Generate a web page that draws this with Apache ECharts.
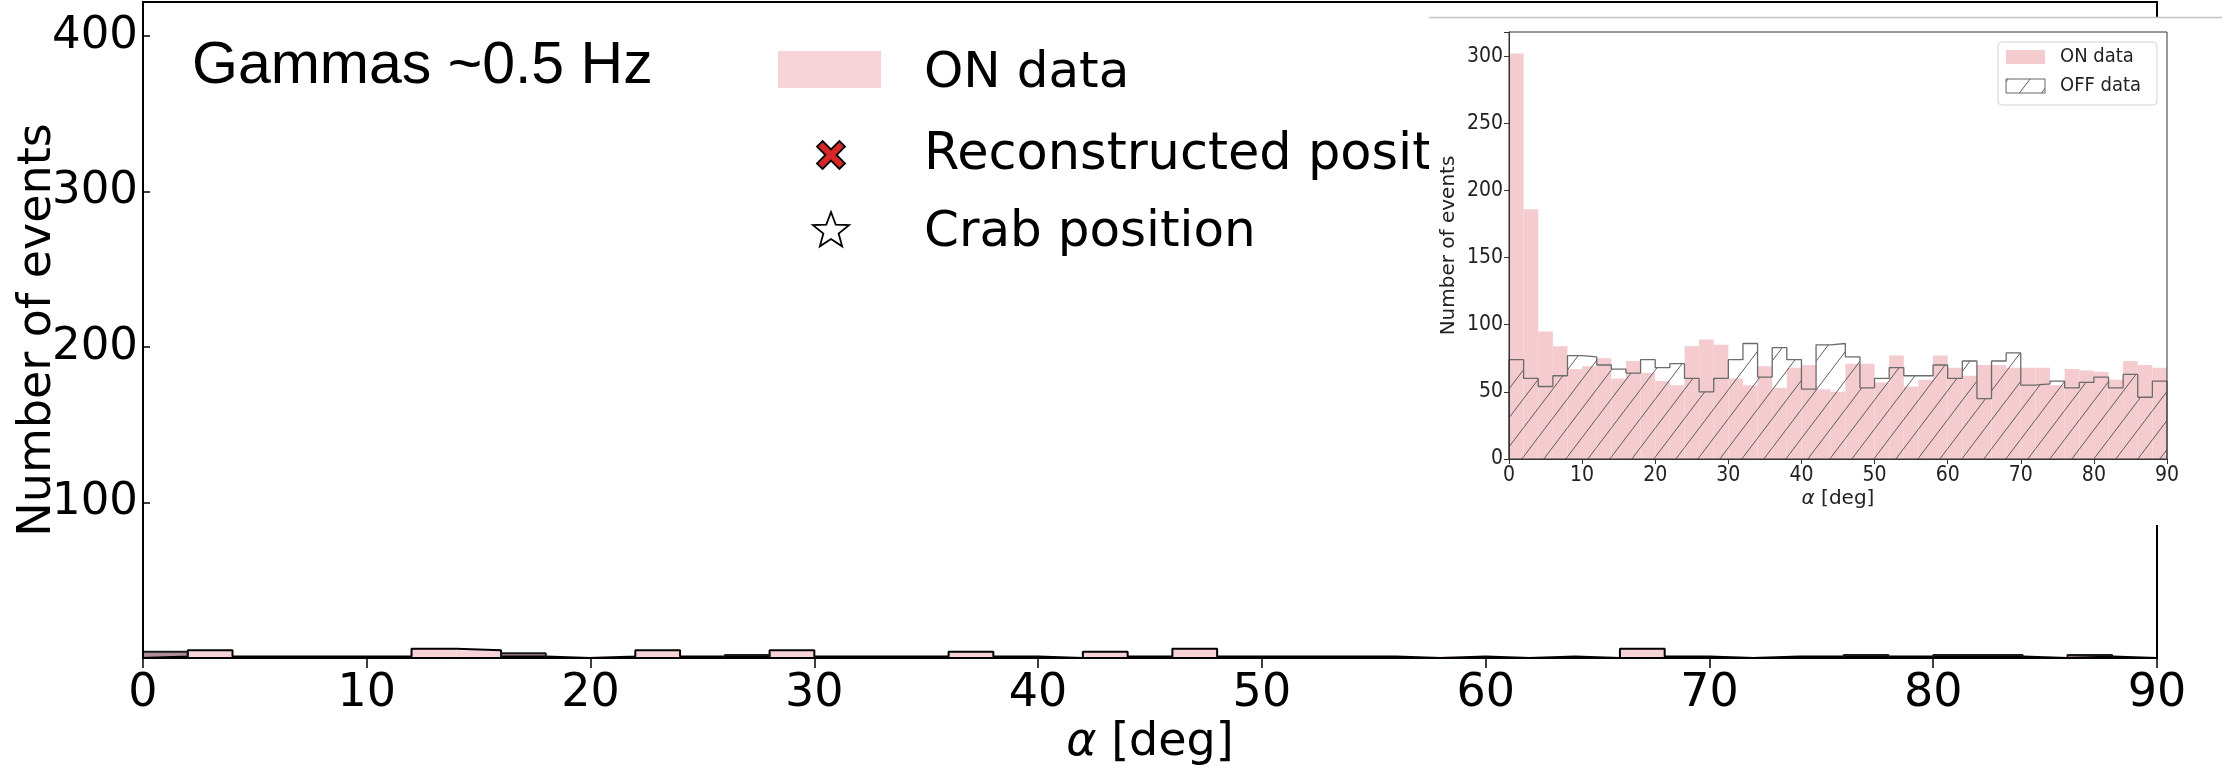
<!DOCTYPE html>
<html>
<head>
<meta charset="utf-8">
<script src="https://cdn.jsdelivr.net/npm/echarts@6/dist/echarts.min.js"></script>
<style>
  html, body { margin: 0; padding: 0; background: #ffffff; }
  #chart { width: 2234px; height: 772px; }
</style>
</head>
<body>
<div id="chart"></div>
<script>
// Alpha histograms, 2-degree bins from 0 to 90 deg.
const binWidth = 2;

// Main panel: gamma-like events (~0.5 Hz)
const mainOnCounts  = [1, 5, 1, 1, 1, 1, 6, 5, 1, 0, 1, 5, 1, 1, 5, 1, 1, 1, 4, 1, 0, 4, 1, 6, 1, 1, 1, 1, 0, 1, 0, 1, 0, 6, 1, 0, 1, 1, 1, 1, 1, 1, 0, 1, 0];
const mainOffCounts = [4, 0, 0, 0, 0, 0, 0, 0, 3, 0, 0, 0, 0, 2, 0, 0, 0, 0, 0, 0, 0, 0, 0, 0, 0, 0, 0, 0, 0, 0, 0, 0, 0, 0, 0, 0, 0, 0, 2, 0, 2, 2, 0, 2, 0];

// Inset panel: ON / OFF data
const insetOnCounts  = [302, 186, 95, 84, 67, 69, 75, 60, 73, 64, 58, 55, 84, 89, 85, 60, 55, 69, 53, 68, 70, 52, 50, 71, 71, 57, 77, 54, 59, 77, 68, 62, 70, 70, 68, 68, 68, 55, 67, 66, 65, 59, 73, 70, 68];
const insetOffCounts = [74, 60, 54, 62, 77, 76, 70, 67, 64, 74, 68, 71, 60, 50, 60, 74, 86, 61, 83, 74, 52, 85, 86, 76, 53, 60, 68, 62, 62, 70, 60, 73, 45, 73, 79, 55, 56, 58, 53, 57, 61, 53, 63, 46, 58];

// Tick labels
const mainYTickLabels  = [100, 200, 300, 400];
const insetYTickLabels = [0, 50, 100, 150, 200, 250, 300];
const alphaTickLabels  = [0, 10, 20, 30, 40, 50, 60, 70, 80, 90];

const legendMain  = ['ON data', 'Reconstructed position', 'Crab position'];
const legendInset = ['ON data', 'OFF data'];

const DV = "'DejaVu Sans', sans-serif";
const DVC = "'DejaVu Sans Condensed', 'DejaVu Sans', sans-serif";
const LIB = "'Liberation Sans', Arial, sans-serif";

function binRows(vals) {
  return vals.map((v, i) => [i * binWidth, (i + 1) * binWidth, v]);
}
function stepRows(vals) {
  const pts = [[0, 0]];
  vals.forEach((v, i) => pts.push([i * binWidth, v]));
  const end = vals.length * binWidth;
  pts.push([end, vals[vals.length - 1]]);
  pts.push([end, 0]);
  return pts;
}
function makeHatch(color) {
  const W = 22, H = 29;
  const c = document.createElement('canvas');
  c.width = W; c.height = H;
  const g = c.getContext('2d');
  g.strokeStyle = color;
  g.lineWidth = 1;
  g.beginPath();
  [-W, 0, W].forEach(s => { g.moveTo(s, H); g.lineTo(s + W, 0); });
  g.stroke();
  return { image: c, repeat: 'repeat' };
}
const hatch = makeHatch('#5c5c5c');

function barRenderer(fill) {
  return function (params, api) {
    const a = api.coord([api.value(0), api.value(2)]);
    const b = api.coord([api.value(1), 0]);
    return {
      type: 'rect',
      shape: { x: a[0], y: a[1], width: b[0] - a[0], height: b[1] - a[1] },
      style: { fill: fill }
    };
  };
}

function starPoints(cx, cy, R, r) {
  const pts = [];
  for (let k = 0; k < 10; k++) {
    const ang = -Math.PI / 2 + k * Math.PI / 5;
    const rad = k % 2 === 0 ? R : r;
    pts.push([cx + rad * Math.cos(ang), cy + rad * Math.sin(ang)]);
  }
  return pts;
}
function xMarkPoints(cx, cy, s) {
  const u = [[-1, -0.6], [-0.6, -1], [0, -0.4], [0.6, -1], [1, -0.6], [0.4, 0],
             [1, 0.6], [0.6, 1], [0, 0.4], [-0.6, 1], [-1, 0.6], [-0.4, 0]];
  return u.map(p => [cx + p[0] * s, cy + p[1] * s]);
}

const chart = echarts.init(document.getElementById('chart'), null, { renderer: 'canvas' });

const option = {
  animation: false,
  backgroundColor: '#ffffff',
  grid: [
    { left: 143, right: 77, top: 2, bottom: 114, show: true, borderColor: '#000', borderWidth: 2,
      backgroundColor: 'transparent', z: 10 },
    { left: 1509, right: 67, top: 32, bottom: 313, show: true, borderColor: '#333', borderWidth: 1,
      backgroundColor: 'transparent', zlevel: 1, z: 20 }
  ],
  xAxis: [
    {
      gridIndex: 0, type: 'value', min: 0, max: 90, interval: 10,
      name: '{a|α} [deg]', nameLocation: 'middle', nameGap: 62, nameMoveOverlap: false,
      nameTextStyle: { fontSize: 46, fontFamily: DV, color: '#000',
        rich: { a: { fontStyle: 'italic', fontSize: 46, fontFamily: DV, color: '#000' } } },
      axisLine: { show: true, onZero: false, lineStyle: { color: '#000', width: 1.5 } },
      axisTick: { show: true, inside: false, length: 10, lineStyle: { color: '#000', width: 1.5 } },
      axisLabel: { show: true, fontSize: 46, fontFamily: DV, color: '#000', margin: 13,
        formatter: v => alphaTickLabels.indexOf(v) >= 0 ? String(v) : '' },
      splitLine: { show: false }, z: 11
    },
    {
      gridIndex: 1, type: 'value', min: 0, max: 90, interval: 10,
      name: '{a|α} [deg]', nameLocation: 'middle', nameGap: 30, nameMoveOverlap: false,
      nameTextStyle: { fontSize: 20, fontFamily: DV, color: '#222',
        rich: { a: { fontStyle: 'italic', fontSize: 20, fontFamily: DV, color: '#222' } } },
      axisLine: { show: true, onZero: false, lineStyle: { color: '#333', width: 1 } },
      axisTick: { show: true, inside: false, length: 5, lineStyle: { color: '#333', width: 1 } },
      axisLabel: { show: true, fontSize: 21, fontFamily: DVC, color: '#222', margin: 6,
        formatter: v => alphaTickLabels.indexOf(v) >= 0 ? String(v) : '' },
      splitLine: { show: false }, zlevel: 1, z: 21
    }
  ],
  yAxis: [
    {
      gridIndex: 0, type: 'value', min: 0, max: 422, interval: 100,
      name: 'Number of events', nameLocation: 'middle', nameGap: 82, nameMoveOverlap: false,
      nameTextStyle: { fontSize: 46, fontFamily: DV, color: '#000' },
      axisLine: { show: true, lineStyle: { color: '#000', width: 1.5 } },
      axisTick: { show: true, inside: true, length: 7, lineStyle: { color: '#000', width: 1.5 } },
      axisLabel: { show: true, fontSize: 45, fontFamily: DV, color: '#000', margin: 5,
        formatter: v => mainYTickLabels.indexOf(v) >= 0 ? String(v) : '' },
      splitLine: { show: false }, z: 11
    },
    {
      gridIndex: 1, type: 'value', min: 0, max: 318, interval: 50,
      name: 'Number of events', nameLocation: 'middle', nameGap: 50, nameMoveOverlap: false,
      nameTextStyle: { fontSize: 20, fontFamily: DV, color: '#222' },
      axisLine: { show: true, lineStyle: { color: '#333', width: 1 } },
      axisTick: { show: true, inside: false, length: 5, lineStyle: { color: '#333', width: 1 } },
      axisLabel: { show: true, fontSize: 21, fontFamily: DVC, color: '#222', margin: 6,
        formatter: v => insetYTickLabels.indexOf(v) >= 0 ? String(v) : '' },
      splitLine: { show: false }, zlevel: 1, z: 21
    }
  ],
  series: [
    // main panel
    { name: 'ON data', type: 'custom', xAxisIndex: 0, yAxisIndex: 0, clip: true,
      data: binRows(mainOnCounts), encode: { x: [0, 1], y: 2 },
      renderItem: barRenderer('#f7d3d7'), z: 2 },
    { name: 'OFF data', type: 'custom', xAxisIndex: 0, yAxisIndex: 0, clip: true,
      data: binRows(mainOffCounts), encode: { x: [0, 1], y: 2 },
      renderItem: barRenderer('rgba(110,50,70,0.55)'), z: 3 },
    { name: 'ON outline', type: 'line', xAxisIndex: 0, yAxisIndex: 0, step: 'end', symbol: 'none',
      data: stepRows(mainOnCounts), lineStyle: { color: '#000', width: 2 }, z: 4, silent: true },
    { name: 'OFF outline', type: 'line', xAxisIndex: 0, yAxisIndex: 0, step: 'end', symbol: 'none',
      data: stepRows(mainOffCounts), lineStyle: { color: '#1a1a1a', width: 2 }, z: 4, silent: true },

    // inset panel
    { name: 'ON data (inset)', type: 'custom', xAxisIndex: 1, yAxisIndex: 1, clip: true,
      data: binRows(insetOnCounts), encode: { x: [0, 1], y: 2 },
      renderItem: barRenderer('#f4cbce'), zlevel: 1, z: 2 },
    { name: 'OFF data (inset)', type: 'custom', xAxisIndex: 1, yAxisIndex: 1, clip: true,
      data: binRows(insetOffCounts), encode: { x: [0, 1], y: 2 },
      renderItem: barRenderer(hatch), zlevel: 1, z: 3 },
    { name: 'OFF outline (inset)', type: 'line', xAxisIndex: 1, yAxisIndex: 1, step: 'end', symbol: 'none',
      data: stepRows(insetOffCounts), lineStyle: { color: '#6b6b6b', width: 1.3 }, zlevel: 1, z: 4, silent: true }
  ],
  graphic: {
    elements: [
      // main annotation and legend
      { type: 'text', x: 192, y: 67, z: 30,
        style: { text: 'Gammas ~0.5 Hz', fontSize: 59, fontFamily: LIB, fill: '#000', verticalAlign: 'middle' } },
      { type: 'rect', shape: { x: 778, y: 51, width: 103, height: 37 }, style: { fill: '#f6d3d6' }, z: 30 },
      { type: 'text', x: 924, y: 74, z: 30,
        style: { text: legendMain[0], fontSize: 50, fontFamily: DV, fill: '#000', verticalAlign: 'middle' } },
      { type: 'polygon', shape: { points: xMarkPoints(831, 155, 14) },
        style: { fill: '#d62728', stroke: '#000', lineWidth: 1.8 }, z: 30 },
      { type: 'text', x: 924, y: 156, z: 30,
        style: { text: legendMain[1], fontSize: 51, fontFamily: DV, fill: '#000', verticalAlign: 'middle' } },
      { type: 'polygon', shape: { points: starPoints(831, 231, 19, 8) },
        style: { fill: '#fff', stroke: '#000', lineWidth: 1.8 }, z: 30 },
      { type: 'text', x: 924, y: 233, z: 30,
        style: { text: legendMain[2], fontSize: 50, fontFamily: DV, fill: '#000', verticalAlign: 'middle' } },

      // inset panel backdrop
      { type: 'rect', zlevel: 1, z: 0, shape: { x: 1429, y: 17, width: 805, height: 508 },
        style: { fill: '#ffffff' } },
      { type: 'line', zlevel: 1, z: 1, shape: { x1: 1429, y1: 17.5, x2: 2222, y2: 17.5 },
        style: { stroke: '#c4c4c4', lineWidth: 1.5 } },

      // inset legend
      { type: 'rect', zlevel: 1, z: 30, shape: { x: 1998, y: 42, width: 159, height: 63, r: 4 },
        style: { fill: '#ffffff', stroke: '#d4d4d4', lineWidth: 1 } },
      { type: 'rect', zlevel: 1, z: 31, shape: { x: 2006, y: 50, width: 39, height: 14 },
        style: { fill: '#f4cbce' } },
      { type: 'text', zlevel: 1, z: 31, x: 2060, y: 57,
        style: { text: legendInset[0], fontSize: 20, fontFamily: DVC, fill: '#222', verticalAlign: 'middle' } },
      { type: 'rect', zlevel: 1, z: 31, shape: { x: 2006, y: 79, width: 39, height: 14 },
        style: { fill: hatch, stroke: '#666', lineWidth: 1 } },
      { type: 'text', zlevel: 1, z: 31, x: 2060, y: 86,
        style: { text: legendInset[1], fontSize: 20, fontFamily: DVC, fill: '#222', verticalAlign: 'middle' } }
    ]
  }
};

chart.setOption(option);
</script>
</body>
</html>
